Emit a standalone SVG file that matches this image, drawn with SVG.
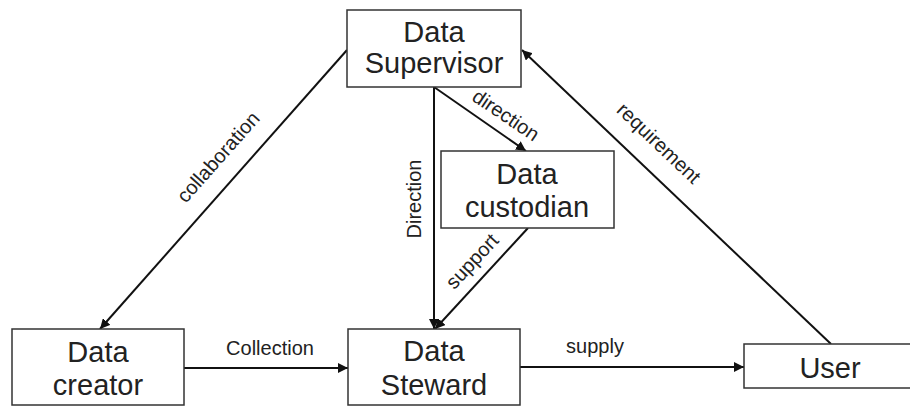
<svg xmlns="http://www.w3.org/2000/svg" width="910" height="406" viewBox="0 0 910 406">
<style>
.box{fill:#fff;stroke:#333;stroke-width:1.5}
.bt{font-family:"Liberation Sans",Arial,sans-serif;font-size:29px;fill:#222;text-anchor:middle}
.lb{font-family:"Liberation Sans",Arial,sans-serif;font-size:20px;fill:#222;text-anchor:middle}
.ln{fill:none;stroke:#111;stroke-width:2}
</style>
<defs>
<marker id="ah" viewBox="0 0 10 10" refX="10" refY="5" markerWidth="5" markerHeight="5" orient="auto" markerUnits="strokeWidth">
<path d="M0,0 L10,5 L0,10 z" fill="#111"/>
</marker>
</defs>
<rect width="910" height="406" fill="#fff"/>
<g id="connectors">
<line class="ln" x1="347" y1="50" x2="100" y2="329" marker-end="url(#ah)"/>
<line class="ln" x1="434" y1="87" x2="526" y2="151" marker-end="url(#ah)"/>
<line class="ln" x1="434" y1="87" x2="434" y2="329" marker-end="url(#ah)"/>
<line class="ln" x1="528" y1="228" x2="435" y2="329" marker-end="url(#ah)"/>
<line class="ln" x1="184" y1="368" x2="348" y2="368" marker-end="url(#ah)"/>
<line class="ln" x1="520" y1="367" x2="744" y2="367" marker-end="url(#ah)"/>
<line class="ln" x1="831" y1="344" x2="522" y2="50" marker-end="url(#ah)"/>
<text class="lb" transform="translate(218,157) rotate(-48.5)" dominant-baseline="central">collaboration</text>
<text class="lb" transform="translate(506,115) rotate(34)" dominant-baseline="central">direction</text>
<text class="lb" transform="translate(414,199) rotate(-90)" dominant-baseline="central">Direction</text>
<text class="lb" transform="translate(472,261) rotate(-47)" dominant-baseline="central">support</text>
<text class="lb" transform="translate(659,143) rotate(43.6)" dominant-baseline="central">requirement</text>
<text class="lb" x="270" y="355">Collection</text>
<text class="lb" x="595" y="353">supply</text>
</g>
<g id="supervisor">
<rect class="box" x="347" y="10" width="174" height="77"/>
<text class="bt" x="434" y="42">Data</text>
<text class="bt" x="434" y="73">Supervisor</text>
</g>
<g id="custodian">
<rect class="box" x="441" y="151" width="173" height="77"/>
<text class="bt" x="527" y="184">Data</text>
<text class="bt" x="527" y="217">custodian</text>
</g>
<g id="creator">
<rect class="box" x="12" y="329" width="172" height="76"/>
<text class="bt" x="98" y="362">Data</text>
<text class="bt" x="98" y="395">creator</text>
</g>
<g id="steward">
<rect class="box" x="348" y="329" width="172" height="76"/>
<text class="bt" x="434" y="361">Data</text>
<text class="bt" x="434" y="395">Steward</text>
</g>
<g id="user">
<rect class="box" x="744" y="344" width="174" height="44"/>
<text class="bt" x="830" y="378">User</text>
</g>
</svg>
